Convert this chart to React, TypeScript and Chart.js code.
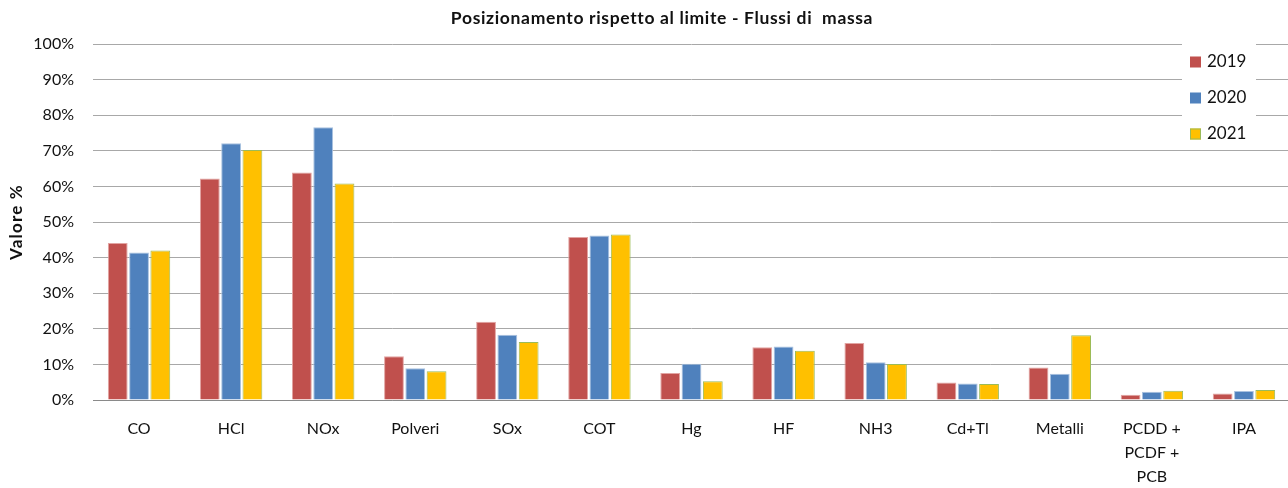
import React, { useEffect, useRef } from "react";
import { Chart, registerables } from "chart.js";

Chart.register(...registerables);

const categories: (string | string[])[] = [
  "CO", "HCl", "NOx", "Polveri", "SOx", "COT", "Hg", "HF", "NH3", "Cd+Tl", "Metalli",
  ["PCDD +", "PCDF +", "PCB"], "IPA",
];
const values2019 = [44.1, 62.2, 63.9, 12.3, 22.0, 45.8, 7.6, 14.8, 16.0, 4.9, 9.1, 1.5, 1.8];
const values2020 = [41.4, 72.1, 76.6, 8.9, 18.3, 46.2, 10.2, 15.0, 10.6, 4.6, 7.4, 2.3, 2.5];
const values2021 = [42.0, 70.2, 60.8, 8.1, 16.3, 46.5, 5.3, 13.8, 10.1, 4.5, 18.2, 2.6, 2.8];
const seriesLabels = ["2019", "2020", "2021"];
const yTicks = [0, 10, 20, 30, 40, 50, 60, 70, 80, 90, 100];
const titleText = "Posizionamento rispetto al limite - Flussi di  massa";
const yTitle = "Valore %";

const fills = ["#C0504D", "#4F81BD", "#FFC000"];
const borders = ["#e2a4a2", "#a9c2e0", "#9BBB59"];
const FONT = "Lato, 'Noto Sans', sans-serif";
const TEXT = "#111111";

export default function App() {
  const ref = useRef<HTMLCanvasElement | null>(null);

  useEffect(() => {
    document.documentElement.style.overflow = "hidden";
    document.body.style.margin = "0";
    document.body.style.overflow = "hidden";
    if (!ref.current) return;

    const customPlugin = {
      id: "excelDecor",
      afterDraw(chart: any) {
        const ctx = chart.ctx;
        const area = chart.chartArea;
        ctx.save();
        // title
        ctx.fillStyle = TEXT;
        ctx.font = `bold 17.5px ${FONT}`;
        (ctx as any).letterSpacing = "0.65px";
        ctx.textAlign = "center";
        ctx.textBaseline = "middle";
        ctx.fillText(titleText, 662, 18);
        // y axis title
        ctx.save();
        ctx.font = `bold 17px ${FONT}`;
        (ctx as any).letterSpacing = "1.2px";
        ctx.translate(17, (area.top + area.bottom) / 2);
        ctx.rotate(-Math.PI / 2);
        ctx.fillText(yTitle, 0, 0);
        ctx.restore();
        (ctx as any).letterSpacing = "0px";
        // legend box
        ctx.fillStyle = "#ffffff";
        ctx.fillRect(1182, 40, 74, 108);
        ctx.font = `17px ${FONT}`;
        ctx.textAlign = "left";
        ctx.textBaseline = "middle";
        seriesLabels.forEach((lab, i) => {
          const cy = 62 + i * 36;
          ctx.fillStyle = fills[i];
          ctx.fillRect(1190, cy - 5.5, 11, 11);
          if (i === 2) {
            ctx.strokeStyle = borders[2];
            ctx.lineWidth = 1;
            ctx.strokeRect(1190.5, cy - 5, 10, 10);
          }
          ctx.fillStyle = TEXT;
          ctx.fillText(lab, 1207, cy);
        });
        ctx.restore();
      },
    };

    const chart = new Chart(ref.current, {
      type: "bar",
      data: {
        labels: categories,
        datasets: [values2019, values2020, values2021].map((d, i) => ({
          label: seriesLabels[i],
          data: d,
          backgroundColor: fills[i],
          borderColor: borders[i],
          borderWidth: 1,
          categoryPercentage: 0.694,
          barPercentage: 0.93,
        })),
      },
      options: {
        animation: false,
        responsive: true,
        maintainAspectRatio: false,
        layout: { padding: { top: 44, right: 2, left: 0, bottom: 0 } },
        plugins: {
          legend: { display: false },
          title: { display: false },
          tooltip: { enabled: false },
        },
        scales: {
          x: {
            grid: { display: false, drawTicks: false },
            border: { display: true, color: "#8a8a8a", width: 1 },
            ticks: {
              color: TEXT,
              font: { family: FONT, size: 16, lineHeight: 1.5 },
              padding: 17,
              maxRotation: 0,
              autoSkip: false,
            },
            afterFit(scale: any) {
              scale.height = 88;
            },
          },
          y: {
            min: 0,
            max: 100,
            afterBuildTicks(scale: any) {
              scale.ticks = yTicks.map((v) => ({ value: v }));
            },
            grid: { color: "#a8a8a8", lineWidth: 1, drawTicks: false },
            border: { display: false },
            ticks: {
              color: TEXT,
              font: { family: FONT, size: 16 },
              padding: 19,
              callback: (v: any) => `${v}%`,
            },
            title: { display: false },
            afterFit(scale: any) {
              scale.width = 93;
            },
          },
        },
      },
      plugins: [customPlugin],
    } as any);

    return () => chart.destroy();
  }, []);

  return (
    <div style={{ position: "absolute", left: 0, top: 0, width: 1292, height: 488 }}>
      <canvas ref={ref} />
    </div>
  );
}
